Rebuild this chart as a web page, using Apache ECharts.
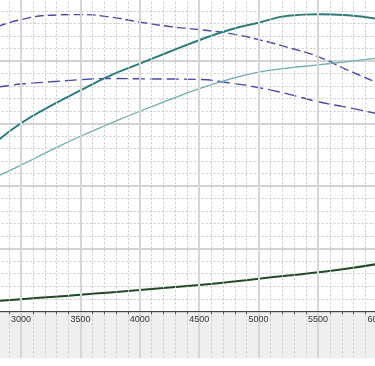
<!DOCTYPE html>
<html>
<head>
<meta charset="utf-8">
<script src="https://cdn.jsdelivr.net/npm/echarts@6/dist/echarts.min.js"></script>
<style>
html,body{margin:0;padding:0;background:#fff;}
#c{width:375px;height:366px;}
</style>
</head>
<body>
<div id="c"></div>
<script>
const rpm = [2800, 3000, 3250, 3500, 3750, 4000, 4250, 4500, 4750, 5000, 5250, 5500, 5750, 6000];
const darkGreen = [8.3, 9.7, 11.4, 13.2, 15.1, 17.0, 19.0, 21.0, 23.4, 26.0, 28.6, 31.1, 34.1, 37.8];
const tealThick = [136.0, 150.2, 164.0, 176.5, 188.3, 197.8, 207.3, 216.5, 224.7, 230.5, 236.0, 237.2, 236.5, 233.5];
const tealThin = [107.8, 116.8, 128.5, 139.8, 150.0, 159.8, 169.0, 177.8, 185.3, 191.0, 194.3, 196.8, 199.5, 202.3];
const dashUpper = [227.3, 233.0, 236.5, 237.0, 235.0, 231.0, 227.5, 225.0, 222.0, 217.0, 210.7, 203.4, 192.7, 182.5];
const dashLower = [179.0, 181.5, 183.3, 185.0, 186.0, 185.7, 185.5, 185.2, 182.5, 178.7, 173.5, 167.4, 162.8, 157.8];
const xTickStep = 500;

const pairs = v => rpm.map((r, i) => [r, v[i]]);

const pxPer100 = 11.88;
const xMin = 2500, xMax = 6000;
const leftPx = 21 - (3000 - xMin) / 100 * pxPer100;
const widthPx = (xMax - xMin) / 100 * pxPer100;
const axisY = 311.3;
const topPx = -1.7;

const majorLine = {show: true, lineStyle: {color: '#d6d6d6', width: 2}};
const minorLine = {show: true, lineStyle: {color: '#cacaca', width: 1, type: [2, 2]}};

const chart = echarts.init(document.getElementById('c'), null, {renderer: 'canvas'});
chart.setOption({
  animation: false,
  backgroundColor: '#ffffff',
  grid: [
    {left: leftPx, width: widthPx, top: topPx, height: axisY - topPx, show: false,
     containLabel: false, outerBoundsMode: 'none'},
    {left: leftPx, width: widthPx, top: axisY, height: 358.3 - axisY, show: true,
     backgroundColor: '#efefef', borderWidth: 0, containLabel: false, outerBoundsMode: 'none'}
  ],
  xAxis: [
    {
      type: 'value', gridIndex: 0, min: xMin, max: xMax, interval: xTickStep,
      axisLine: {show: true, onZero: false, lineStyle: {color: '#444', width: 1}},
      axisTick: {show: false},
      minorTick: {show: true, splitNumber: 5, length: 3, lineStyle: {color: '#555', width: 1}},
      axisLabel: {show: true, margin: 4, color: '#333', fontSize: 9,
        fontFamily: 'Liberation Sans, Arial, sans-serif', formatter: v => String(v)},
      splitLine: majorLine,
      minorSplitLine: minorLine,
      z: 5
    },
    {
      type: 'value', gridIndex: 1, min: xMin, max: xMax, interval: xTickStep,
      axisLine: {show: false}, axisTick: {show: false}, axisLabel: {show: false},
      minorTick: {show: false, splitNumber: 5},
      splitLine: majorLine,
      minorSplitLine: minorLine
    }
  ],
  yAxis: [
    {
      type: 'value', gridIndex: 0, min: 0, max: 250, interval: 50,
      axisLine: {show: false}, axisTick: {show: false}, axisLabel: {show: false},
      minorTick: {show: false, splitNumber: 5},
      splitLine: {show: true, lineStyle: {color: '#d2d2d2', width: 1.8}},
      minorSplitLine: minorLine
    },
    {
      type: 'value', gridIndex: 1, min: 0, max: 1,
      axisLine: {show: false}, axisTick: {show: false}, axisLabel: {show: false},
      splitLine: {show: false}
    }
  ],
  series: [
    {type: 'line', name: 'lower dashed', data: pairs(dashLower), smooth: true, showSymbol: false,
     lineStyle: {color: '#4848a8', width: 1.4, type: [12, 5]}},
    {type: 'line', name: 'upper dashed', data: pairs(dashUpper), smooth: true, showSymbol: false,
     lineStyle: {color: '#4848a8', width: 1.4, type: [9, 4]}},
    {type: 'line', name: 'thin teal', data: pairs(tealThin), smooth: true, showSymbol: false,
     lineStyle: {color: '#6eaeae', width: 1.3}},
    {type: 'line', name: 'thick teal', data: pairs(tealThick), smooth: true, showSymbol: false,
     lineStyle: {color: '#2b7b7b', width: 2}},
    {type: 'line', name: 'dark green', data: pairs(darkGreen), smooth: true, showSymbol: false,
     lineStyle: {color: '#1f4a22', width: 2}}
  ]
});
</script>
</body>
</html>
